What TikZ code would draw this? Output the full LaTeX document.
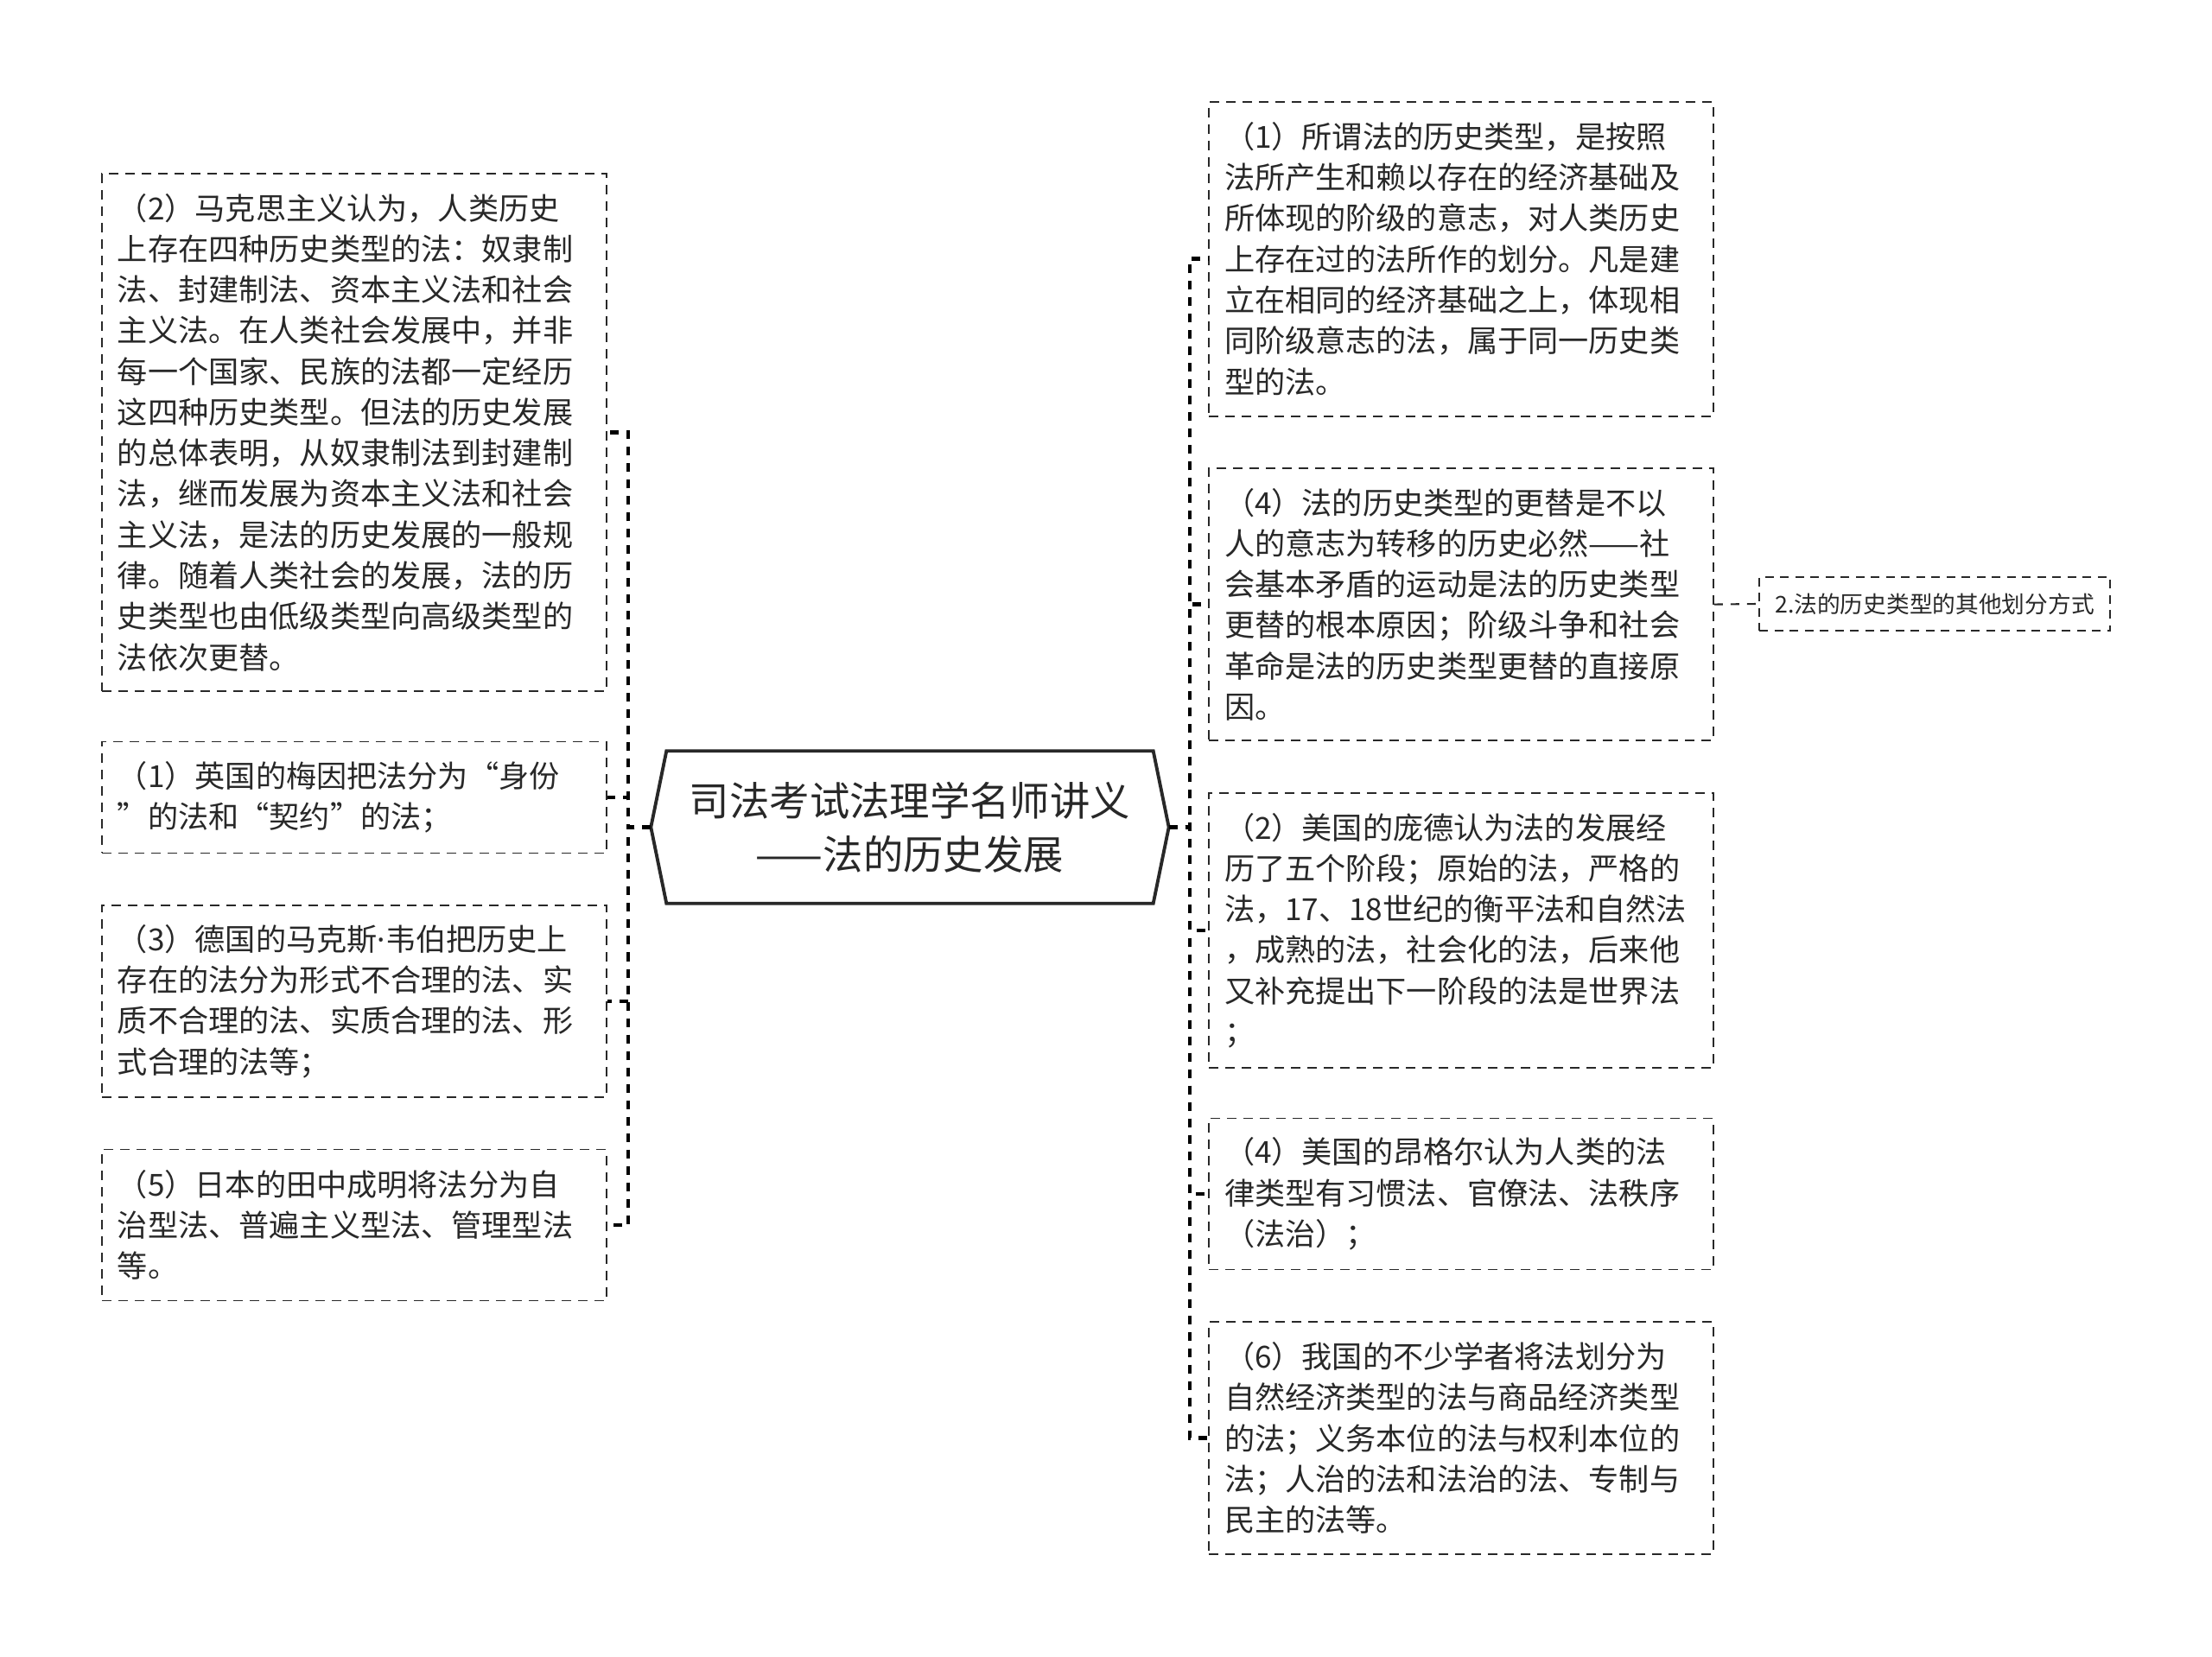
\documentclass[tikz,border=0pt]{standalone}
\usepackage{fontspec}
\setmainfont{Noto Sans CJK SC}
\newfontfamily\latinfont{Noto Sans}
\usepackage{xcolor}
\definecolor{ink}{RGB}{40,40,40}
\definecolor{rule}{RGB}{40,40,40}
\usepackage{tikz}
\usetikzlibrary{arrows.meta,positioning,calc}
\tikzset{
  %% Dashed text boxes on both sides
  leafbox/.style={
    draw=rule, line width=0.55pt, dash pattern=on 1.1mm off 0.8mm,
    text=ink, text width=54.8mm, inner xsep=1.8mm, inner ysep=0pt,
    align=left, anchor=center,
    font=\fontsize{10pt}{13.45pt}\selectfont,
  },
  %% Small box on the far right
  notebox/.style={
    draw=rule, line width=0.55pt, dash pattern=on 1mm off 0.75mm,
    text=ink, inner xsep=1.2mm, inner ysep=0pt,
    minimum width=40.6mm, minimum height=6.2mm,
    font=\fontsize{7.6pt}{9pt}\selectfont,
  },
  %% Central title
  hubbox/.style={
    draw=none, text=ink, align=center,
    minimum width=56.2mm, minimum height=17.5mm,
    font=\fontsize{13.2pt}{17.6pt}\selectfont,
  },
  hubline/.style={draw=rule, line width=1.1pt, line join=miter},
  %% Connectors
  branchline/.style={draw=black, line width=1.2pt, dash pattern=on 1mm off 0.9mm},
  twigline/.style={draw=rule, line width=0.6pt, dash pattern=on 1mm off 0.9mm},
}

\begin{document}
\begin{tikzpicture}[x=1mm,y=-1mm]
\useasboundingbox (0,0) rectangle (256,191.8);

%% title
\node[hubbox] (hub) at (105.3,95.75) {司法考试法理学名师讲义\\——法的历史发展};
\draw[hubline] (hub.north west) -- (hub.north east) -- ([xshift=1.8mm]hub.east)
  -- (hub.south east) -- (hub.south west) -- ([xshift=-1.8mm]hub.west) -- cycle;
\coordinate (hubL) at ([xshift=-1.8mm]hub.west);
\coordinate (hubR) at ([xshift=1.8mm]hub.east);

%% left side
\node[leafbox, minimum height=59.9mm] (marx) at (41,50.05) {%
（2）马克思主义认为，人类历史\\
上存在四种历史类型的法：奴隶制\\
法、封建制法、资本主义法和社会\\
主义法。在人类社会发展中，并非\\
每一个国家、民族的法都一定经历\\
这四种历史类型。但法的历史发展\\
的总体表明，从奴隶制法到封建制\\
法，继而发展为资本主义法和社会\\
主义法，是法的历史发展的一般规\\
律。随着人类社会的发展，法的历\\
史类型也由低级类型向高级类型的\\
法依次更替。};
\node[leafbox, minimum height=12.9mm] (maine) at (41,92.3) {%
（1）英国的梅因把法分为“身份\\
”的法和“契约”的法；};
\node[leafbox, minimum height=22.2mm] (weber) at (41,115.9) {%
（3）德国的马克斯{\latinfont ·}韦伯把历史上\\
存在的法分为形式不合理的法、实\\
质不合理的法、实质合理的法、形\\
式合理的法等；};
\node[leafbox, minimum height=17.5mm] (tanaka) at (41,141.8) {%
（5）日本的田中成明将法分为自\\
治型法、普遍主义型法、管理型法\\
等。};

%% right side
\node[leafbox, minimum height=36.4mm] (typedef) at (169.1,29.96) {%
（1）所谓法的历史类型，是按照\\
法所产生和赖以存在的经济基础及\\
所体现的阶级的意志，对人类历史\\
上存在过的法所作的划分。凡是建\\
立在相同的经济基础之上，体现相\\
同阶级意志的法，属于同一历史类\\
型的法。};
\node[leafbox, minimum height=31.5mm] (change) at (169.1,69.96) {%
（4）法的历史类型的更替是不以\\
人的意志为转移的历史必然——社\\
会基本矛盾的运动是法的历史类型\\
更替的根本原因；阶级斗争和社会\\
革命是法的历史类型更替的直接原\\
因。};
\node[leafbox, minimum height=31.8mm] (pound) at (169.1,107.7) {%
（2）美国的庞德认为法的发展经\\
历了五个阶段；原始的法，严格的\\
法，17、18世纪的衡平法和自然法\\
，成熟的法，社会化的法，后来他\\
又补充提出下一阶段的法是世界法\\
；};
\node[leafbox, minimum height=17.5mm] (unger) at (169.1,138.2) {%
（4）美国的昂格尔认为人类的法\\
律类型有习惯法、官僚法、法秩序\\
（法治）；};
\node[leafbox, minimum height=26.9mm] (china) at (169.1,166.45) {%
（6）我国的不少学者将法划分为\\
自然经济类型的法与商品经济类型\\
的法；义务本位的法与权利本位的\\
法；人治的法和法治的法、专制与\\
民主的法等。};
\node[notebox] (other) at (223.9,69.9) {2.法的历史类型的其他划分方式};

%% connectors
\foreach \leaf in {marx,maine,weber,tanaka}
  \draw[branchline] (hubL) -- ++(-2.6,0) |- (\leaf.east);
\foreach \leaf in {typedef,change,pound,unger,china}
  \draw[branchline] (hubR) -- ++(2.4,0) |- (\leaf.west);
\draw[twigline] (change.east) -- (other.west);
\end{tikzpicture}
\end{document}
